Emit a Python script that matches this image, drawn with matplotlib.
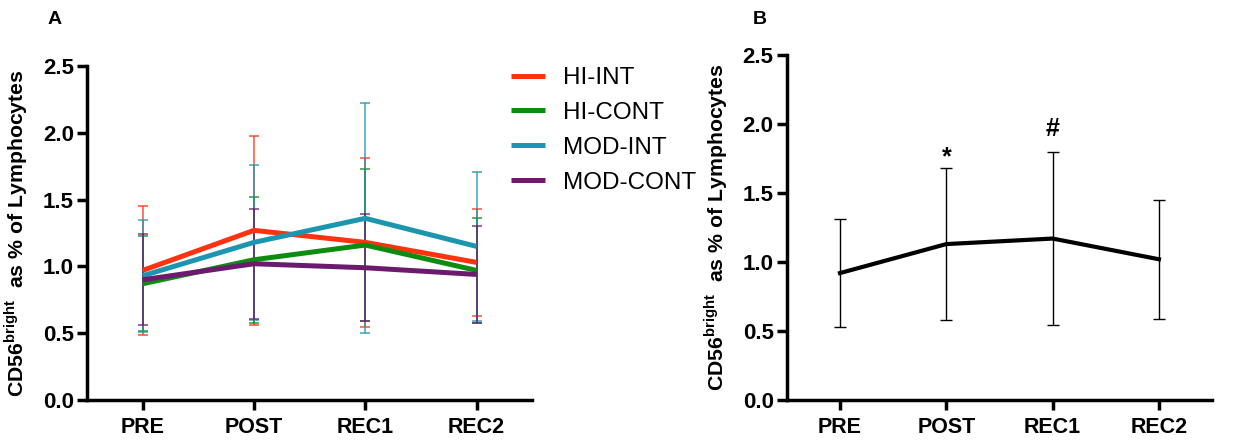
import numpy as np
import matplotlib
matplotlib.use('Agg')
import matplotlib.pyplot as plt

plt.rcParams['font.family'] = ['Liberation Sans', 'DejaVu Sans']

timepoints = ['PRE', 'POST', 'REC1', 'REC2']

# Panel A: group means and SD
groups = ['HI-INT', 'HI-CONT', 'MOD-INT', 'MOD-CONT']
group_colors = ['#ff3210', '#0e8c12', '#1b95b0', '#6c1a6e']
group_means = {
    'HI-INT':   [0.97, 1.27, 1.18, 1.03],
    'HI-CONT':  [0.87, 1.05, 1.16, 0.97],
    'MOD-INT':  [0.93, 1.18, 1.36, 1.15],
    'MOD-CONT': [0.90, 1.02, 0.99, 0.94],
}
group_sd = {
    'HI-INT':   [0.48, 0.71, 0.63, 0.40],
    'HI-CONT':  [0.355, 0.47, 0.57, 0.395],
    'MOD-INT':  [0.42, 0.58, 0.86, 0.56],
    'MOD-CONT': [0.34, 0.41, 0.40, 0.36],
}

# Panel B: pooled mean and SD
pooled_mean = [0.92, 1.13, 1.17, 1.02]
pooled_sd = [0.39, 0.55, 0.63, 0.43]
marks = ['', '*', '#', '']

ylabel = r'CD56$^{\mathregular{bright}}$  as % of Lymphocytes'


def style_axis(ax, label_x):
    x = np.arange(len(timepoints))
    ax.set_xlim(-0.5, 3.5)
    ax.set_ylim(0, 2.5)
    ax.set_xticks(x)
    ax.set_xticklabels(timepoints, fontsize=15.5, fontweight='bold')
    ax.set_yticks([0, 0.5, 1.0, 1.5, 2.0, 2.5])
    ax.set_yticklabels(['0.0', '0.5', '1.0', '1.5', '2.0', '2.5'], fontsize=16, fontweight='bold')
    for s in ['top', 'right']:
        ax.spines[s].set_visible(False)
    for s in ['left', 'bottom']:
        ax.spines[s].set_linewidth(2.5)
    ax.tick_params(width=2.5, length=7.5, pad=2)
    ax.tick_params(axis='x', pad=5)
    ax.set_ylabel(ylabel, fontsize=15.3, fontweight='bold')
    ax.yaxis.set_label_coords(label_x, 0.5)


fig = plt.figure(figsize=(12.47, 4.4), dpi=100)
axA = fig.add_axes([0.0698, 0.0909, 0.357, 0.759])
axB = fig.add_axes([0.631, 0.0909, 0.341, 0.784])

x = np.arange(len(timepoints))
for g, c in zip(groups, group_colors):
    axA.errorbar(x, group_means[g], yerr=group_sd[g], fmt='none', ecolor=c,
                 elinewidth=1.1, capsize=3.6, capthick=1.1, alpha=0.85, zorder=2)
for g, c in zip(groups, group_colors):
    axA.plot(x, group_means[g], color=c, lw=3.6, label=g, zorder=3,
             solid_capstyle='butt')
style_axis(axA, -0.128)
axA.legend(loc='upper left', bbox_to_anchor=(511 / 1247, 1 - 67 / 440),
           bbox_transform=fig.transFigure, frameon=False, borderpad=0,
           borderaxespad=0, fontsize=17.5, handlelength=1.4,
           handletextpad=0.72, labelspacing=0.53)

axB.errorbar(x, pooled_mean, yerr=pooled_sd, fmt='none', ecolor='black',
             elinewidth=1.0, capsize=4.5, capthick=1.0, zorder=2)
axB.plot(x, pooled_mean, color='black', lw=3.0, zorder=3)
mark_offset = {'*': 0.03, '#': 0.11}
for xi, m, s, t in zip(x, pooled_mean, pooled_sd, marks):
    if t:
        axB.text(xi, m + s + mark_offset[t], t, ha='center', va='baseline',
                 fontsize=18, fontweight='bold')
style_axis(axB, -0.134)

fig.text(0.0441, 0.955, 'A', fontsize=14, fontweight='bold', ha='center', va='center')
fig.text(0.6095, 0.955, 'B', fontsize=14, fontweight='bold', ha='center', va='center')

fig.savefig('out.png', dpi=100)
